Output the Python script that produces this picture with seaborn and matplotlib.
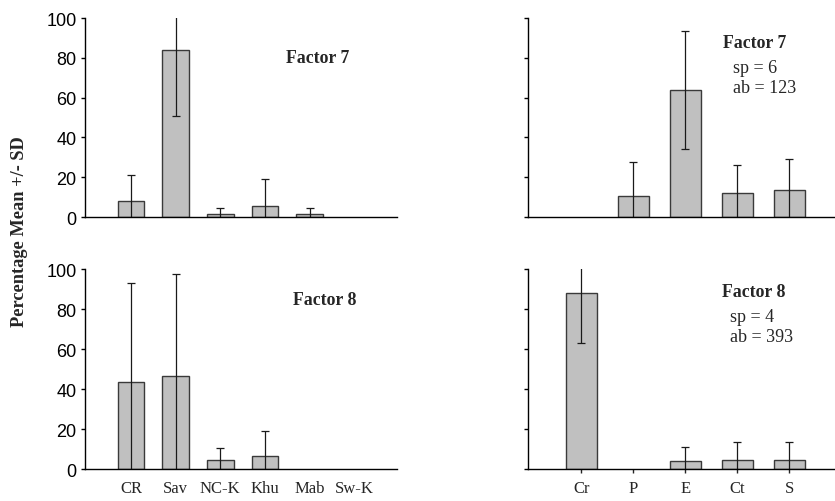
import numpy as np
import pandas as pd
import matplotlib
matplotlib.use("Agg")
import matplotlib.pyplot as plt
import seaborn as sns

# sites (left panels) and groups (right panels)
sites = ["CR", "Sav", "NC-K", "Khu", "Mab", "Sw-K"]
groups = ["Cr", "P", "E", "Ct", "S"]

# Factor 7
f7_site_mean = [7.9, 84.1, 1.3, 5.7, 1.3, 0.0]
f7_site_sd = [13.0, 33.3, 3.4, 13.5, 3.4, 0.0]
f7_group_mean = [0.0, 10.5, 64.0, 12.2, 13.5]
f7_group_sd = [0.0, 17.1, 29.7, 14.1, 15.6]

# Factor 8
f8_site_mean = [43.7, 46.3, 4.3, 6.5, 0.0, 0.0]
f8_site_sd = [49.5, 51.4, 6.2, 12.7, 0.0, 0.0]
f8_group_mean = [88.0, 0.0, 3.8, 4.5, 4.5]
f8_group_sd = [25.0, 0.0, 7.2, 8.8, 8.8]

sns.set_style("ticks")
plt.rcParams["font.family"] = ["Liberation Sans", "DejaVu Sans"]

fig = plt.figure(figsize=(8.35, 5.02), dpi=100)

# axes boxes (figure fractions)
ax_tl = fig.add_axes([0.1018, 0.5657, 0.3737, 0.3964])
ax_tr = fig.add_axes([0.6323, 0.5657, 0.3677, 0.3964])
ax_bl = fig.add_axes([0.1018, 0.0637, 0.3737, 0.3984])
ax_br = fig.add_axes([0.6323, 0.0637, 0.3677, 0.3984])

panels = [
    (ax_tl, sites, f7_site_mean, f7_site_sd, (-1.03, 5.96)),
    (ax_tr, groups, f7_group_mean, f7_group_sd, (-1.03, 4.88)),
    (ax_bl, sites, f8_site_mean, f8_site_sd, (-1.03, 5.96)),
    (ax_br, groups, f8_group_mean, f8_group_sd, (-1.03, 4.88)),
]

for ax, cats, mean, sd, xl in panels:
    df = pd.DataFrame({"cat": cats, "mean": mean, "sd": sd})
    sns.barplot(data=df, x="cat", y="mean", color="#c0c0c0", saturation=1,
                edgecolor="#3a3a3a", linewidth=1.0, width=0.6, ax=ax)
    # empty categories show no bar outline at all
    for p in ax.patches:
        if p.get_height() == 0:
            p.set_visible(False)
    has_err = df["sd"] > 0
    xs = np.arange(len(cats))[has_err]
    ax.errorbar(xs, df["mean"][has_err], yerr=df["sd"][has_err], fmt="none",
                ecolor="#1a1a1a", elinewidth=0.9, capsize=3, capthick=0.9)
    ax.set_ylim(0, 100)
    ax.set_xlim(*xl)
    ax.set_yticks([0, 20, 40, 60, 80, 100])
    ax.set_xlabel("")
    ax.set_ylabel("")
    sns.despine(ax=ax)
    for s in ["left", "bottom"]:
        ax.spines[s].set_color("black")
        ax.spines[s].set_linewidth(1.0)
    ax.tick_params(axis="y", direction="out", length=3, width=1, pad=3,
                   labelsize=13, colors="black")

# left panels show numbers, right panels only ticks
ax_tr.set_yticklabels([])
ax_br.set_yticklabels([])

# top panels: no x labels
for ax in [ax_tl, ax_tr]:
    ax.tick_params(axis="x", length=0, labelbottom=False)

ax_bl.tick_params(axis="x", length=0, pad=8)
ax_br.tick_params(axis="x", length=3, width=1, pad=5)
for ax in [ax_bl, ax_br]:
    for lab in ax.get_xticklabels():
        lab.set_fontfamily("Liberation Serif")
        lab.set_fontsize(12)

# panel notes
serif = "Liberation Serif"
ax_tl.text(0.643, 0.80, "Factor 7", transform=ax_tl.transAxes, family=serif,
           fontweight="bold", fontsize=12.8, va="center")
ax_tr.text(0.635, 0.875, "Factor 7", transform=ax_tr.transAxes, family=serif,
           fontweight="bold", fontsize=12.8, va="center")
ax_tr.text(0.668, 0.75, "sp = 6", transform=ax_tr.transAxes, family=serif,
           fontsize=13, va="center")
ax_tr.text(0.668, 0.65, "ab = 123", transform=ax_tr.transAxes, family=serif,
           fontsize=13, va="center")
ax_bl.text(0.665, 0.85, "Factor 8", transform=ax_bl.transAxes, family=serif,
           fontweight="bold", fontsize=12.8, va="center")
ax_br.text(0.632, 0.89, "Factor 8", transform=ax_br.transAxes, family=serif,
           fontweight="bold", fontsize=12.8, va="center")
ax_br.text(0.658, 0.765, "sp = 4", transform=ax_br.transAxes, family=serif,
           fontsize=13, va="center")
ax_br.text(0.658, 0.665, "ab = 393", transform=ax_br.transAxes, family=serif,
           fontsize=13, va="center")

fig.text(0.023, 0.538, "Percentage Mean +/- SD", rotation=90, family=serif,
         fontweight="bold", fontsize=13.2, ha="center", va="center")

fig.savefig("out.png", dpi=100)
